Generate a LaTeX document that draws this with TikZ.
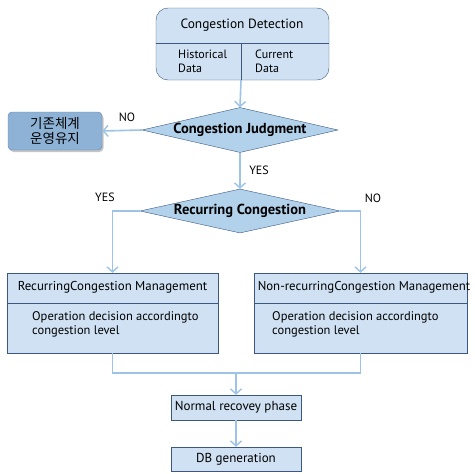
\documentclass[tikz,border=0pt]{standalone}
\usepackage{fontspec}
\setmainfont{PT Sans}
\newfontfamily\krfont{Noto Sans CJK KR}
\usetikzlibrary{arrows.meta,shapes.geometric,positioning,shadows}
\definecolor{cdnavy}{RGB}{60,88,128}
\definecolor{cdfill}{RGB}{207,225,242}
\definecolor{cddiam}{RGB}{178,210,236}
\definecolor{cdkeep}{RGB}{141,178,214}
\definecolor{cdkeepline}{RGB}{96,132,172}
\definecolor{cdline}{RGB}{157,195,230}
\tikzstyle{process} = [rectangle, draw=cdnavy, fill=cdfill, inner sep=0pt, font=\fontsize{13}{14}\selectfont]
\tikzstyle{decision} = [diamond, draw=cdnavy, fill=cddiam, inner sep=0pt, font=\bfseries\fontsize{14.5}{16}\selectfont]
\tikzstyle{arrow} = [line width=1.6pt, color=cdline, -{Straight Barb[length=5pt,width=11pt,line width=1.4pt]}]
\tikzstyle{link} = [line width=1.6pt, color=cdline]
\tikzstyle{answer} = [font=\fontsize{12}{14}\selectfont]
\tikzstyle{body} = [anchor=north west, align=left, inner sep=0pt, font=\fontsize{12.5}{14}\selectfont]
\begin{document}
\begin{tikzpicture}[x=1pt, y=-1pt]
\useasboundingbox (0,0) rectangle (475,474);

% detection box
\node (detect) [process, rounded corners=12pt, minimum width=173pt, minimum height=72pt] at (242.5,44) {};
\node (title) [font=\fontsize{13.4}{15}\selectfont] at (242,25) {Congestion Detection};
\coordinate (split) at (241,43);
\draw[cdnavy] (detect.west |- split) -- (detect.east |- split);
\draw[cdnavy] (split) -- (split |- detect.south);
\node (hist) [body, font=\fontsize{12}{14}\selectfont] at (178,50) {Historical\\Data};
\node (curr) [body, font=\fontsize{12}{14}\selectfont] at (255,50) {Current\\Data};

% decisions
\node (judge) [decision, minimum width=196pt, minimum height=45pt, aspect=4.3] at (240,130) {Congestion Judgment};
\node (keep) [rectangle, rounded corners=4pt, draw=cdkeepline, fill=cdkeep, drop shadow={opacity=0.45, shadow xshift=1.5pt, shadow yshift=-2pt}, minimum width=94pt, minimum height=38pt, inner sep=0pt, align=center, font=\krfont\fontsize{13.5}{15.5}\selectfont] at (55,131) {기존체계\\운영유지};
\node (recur) [decision, minimum width=200pt, minimum height=44pt, aspect=4.5] at (240,211) {Recurring Congestion};

% management boxes
\node (rec) [process, minimum width=211pt, minimum height=80pt] at (112.5,313) {};
\node (nrec) [process, minimum width=213pt, minimum height=80pt] at (360.5,313) {};
\draw[cdnavy] (rec.west |- 0,303) -- (rec.east |- 0,303);
\draw[cdnavy] (nrec.west |- 0,303) -- (nrec.east |- 0,303);
\node (rectitle) [font=\fontsize{12.9}{14}\selectfont] at (112.5,287) {RecurringCongestion Management};
\node (nrectitle) [font=\fontsize{12.8}{14}\selectfont] at (364,287) {Non-recurringCongestion Management};
\node (rectext) [body] at (32,311) {Operation decision accordingto\\congestion level};
\node (nrectext) [body] at (272,311) {Operation decision accordingto\\congestion level};

% final steps
\node (recov) [process, minimum width=130pt, minimum height=25pt] at (236,407.5) {Normal recovey phase};
\node (db) [process, minimum width=130pt, minimum height=24pt] at (236,459) {DB generation};
\coordinate (merge) at (236,373);

% connectors
\draw[arrow] (split |- detect.south) -- (judge.north);
\draw[arrow] (judge.west) -- (keep.east);
\draw[arrow] (judge.south) -- (recur.north);
\draw[arrow] (recur.west) -| (rec.north);
\draw[arrow] (recur.east) -| (nrec.north);
\draw[link] (rec.south) |- (merge) -| (nrec.south);
\draw[arrow] (merge) -- (recov.north);
\draw[arrow] (recov.south) -- (db.north);

\node (no1) [answer] at (127,117) {NO};
\node (yes1) [answer] at (259,170) {YES};
\node (yes2) [answer] at (105,197) {YES};
\node (no2) [answer] at (373,198) {NO};
\end{tikzpicture}
\end{document}
